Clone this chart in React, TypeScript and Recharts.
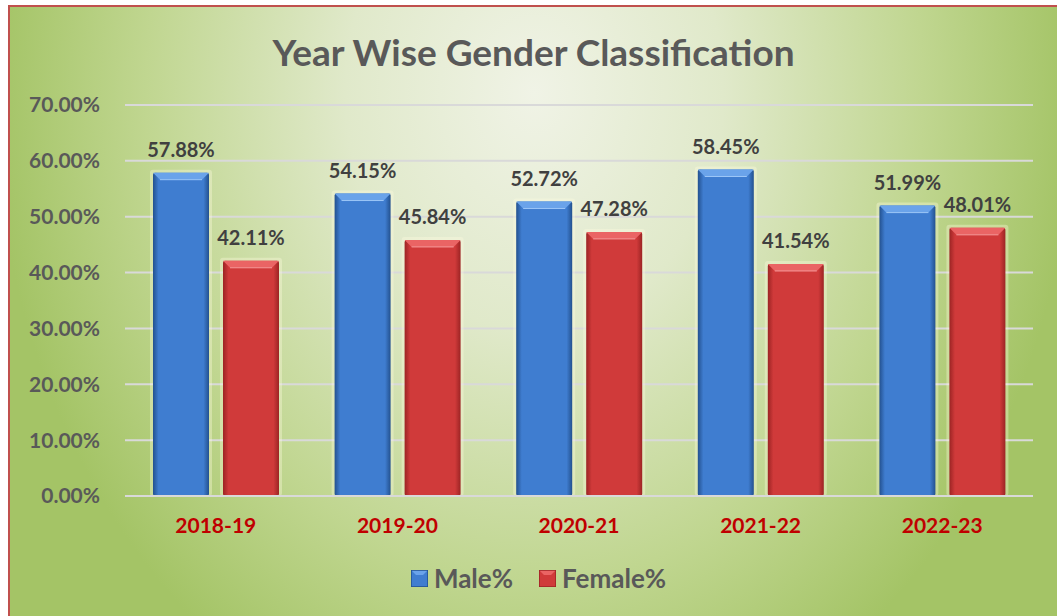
// Year wise gender classification: clustered bars with an Excel-like bevel look.
import React from 'react';
import { BarChart, Bar, XAxis, YAxis, CartesianGrid, LabelList, Legend } from 'recharts';

const years = ['2018-19', '2019-20', '2020-21', '2021-22', '2022-23'];
const malePct = [57.88, 54.15, 52.72, 58.45, 51.99];
const femalePct = [42.11, 45.84, 47.28, 41.54, 48.01];
const yTicks = [0, 10, 20, 30, 40, 50, 60, 70];

const data = years.map((year, i) => ({ year, male: malePct[i], female: femalePct[i] }));

const FONT = 'Lato, "Open Sans", sans-serif';

const BLUE = { id: 'maleBody', edge: '#23518f', mid: '#3f7dd0', top: '#6aa3ea', hi: '#9cc6f7' };
const RED = { id: 'femaleBody', edge: '#9c2424', mid: '#d03a3a', top: '#ea6464', hi: '#f59a9a' };

const BevelBar = (props: any) => {
  const { x, y, width, height, pal } = props;
  if (!height || height <= 0) return null;
  const b = 7;
  return (
    <g>
      <rect x={x - 3} y={y - 3} width={width + 6} height={height + 3} rx={3} fill="#fffbe0" opacity={0.35} />
      <rect x={x} y={y} width={width} height={height} rx={2} fill={`url(#${pal.id})`} />
      <polygon points={`${x},${y} ${x + width},${y} ${x + width - b},${y + b} ${x + b},${y + b}`} fill={pal.top} />
      <line x1={x + b} y1={y + b} x2={x + width - b} y2={y + b} stroke={pal.hi} strokeWidth={1} />
    </g>
  );
};

const Swatch: React.FC<{ pal: typeof BLUE }> = ({ pal }) => (
  <svg width={17} height={17} style={{ display: 'block' }}>
    <rect x={0} y={0} width={17} height={17} fill={pal.mid} />
    <polygon points="0,0 17,0 12,5 5,5" fill={pal.top} />
    <rect x={0} y={0} width={17} height={17} fill="none" stroke={pal.edge} strokeWidth={1.5} />
  </svg>
);

const LegendContent = () => (
  <div style={{ display: 'flex', justifyContent: 'center', alignItems: 'center', gap: 26, height: 40, fontFamily: FONT, fontWeight: 700, fontSize: 26, color: '#595959', paddingLeft: 34 }}>
    <div style={{ display: 'flex', alignItems: 'center', gap: 6 }}><Swatch pal={BLUE} />Male%</div>
    <div style={{ display: 'flex', alignItems: 'center', gap: 6 }}><Swatch pal={RED} />Female%</div>
  </div>
);

export default function App() {
  return (
    <div style={{ position: 'absolute', left: 8, top: 5, width: 1049, height: 611, borderTop: '2px solid #c0504d', borderLeft: '2px solid #c0504d',
      background: 'radial-gradient(ellipse 540px 680px at 50% 14%, #f0f3e6 0%, #e0e9ca 35%, #c0d690 72%, #a4c466 100%)' }}>
      <style>{'html,body{margin:0;overflow:hidden}'}</style>
      <div style={{ position: 'absolute', top: 22, left: 0, width: 1047, textAlign: 'center', fontFamily: FONT, fontWeight: 700, fontSize: 37, color: '#595959' }}>
        Year Wise Gender Classification
      </div>
      <BarChart width={1047} height={609} data={data} margin={{ top: 98, right: 24, left: 0, bottom: 18 }} barCategoryGap="15%" barGap={14}>
        <defs>
          {[BLUE, RED].map(p => (
            <linearGradient key={p.id} id={p.id} x1="0" y1="0" x2="1" y2="0">
              <stop offset="0%" stopColor={p.edge} />
              <stop offset="10%" stopColor={p.mid} />
              <stop offset="50%" stopColor={p.mid} />
              <stop offset="90%" stopColor={p.mid} />
              <stop offset="100%" stopColor={p.edge} />
            </linearGradient>
          ))}
        </defs>
        <CartesianGrid vertical={false} stroke="#d9d9d9" strokeWidth={2} />
        <XAxis dataKey="year" axisLine={{ stroke: '#d9d9d9', strokeWidth: 2 }} tickLine={false} tickSize={0} tickMargin={22}
          height={62} tick={{ fill: '#c00000', fontFamily: FONT, fontWeight: 700, fontSize: 21 }} />
        <YAxis domain={[0, 70]} ticks={yTicks} axisLine={false} tickLine={false} tickSize={0} tickMargin={25} width={115}
          tickFormatter={(v: number) => `${v.toFixed(2)}%`} tick={{ fill: '#595959', fontFamily: FONT, fontWeight: 700, fontSize: 21 }} />
        <Legend verticalAlign="bottom" height={40} content={<LegendContent />} />
        <Bar dataKey="male" name="Male%" barSize={56} isAnimationActive={false} shape={(p: any) => <BevelBar {...p} pal={BLUE} />}>
          <LabelList dataKey="male" position="top" offset={16} formatter={(v: any) => `${Number(v).toFixed(2)}%`}
            style={{ fill: '#404040', fontFamily: FONT, fontWeight: 700, fontSize: 20 }} />
        </Bar>
        <Bar dataKey="female" name="Female%" barSize={56} isAnimationActive={false} shape={(p: any) => <BevelBar {...p} pal={RED} />}>
          <LabelList dataKey="female" position="top" offset={16} formatter={(v: any) => `${Number(v).toFixed(2)}%`}
            style={{ fill: '#404040', fontFamily: FONT, fontWeight: 700, fontSize: 20 }} />
        </Bar>
      </BarChart>
    </div>
  );
}
